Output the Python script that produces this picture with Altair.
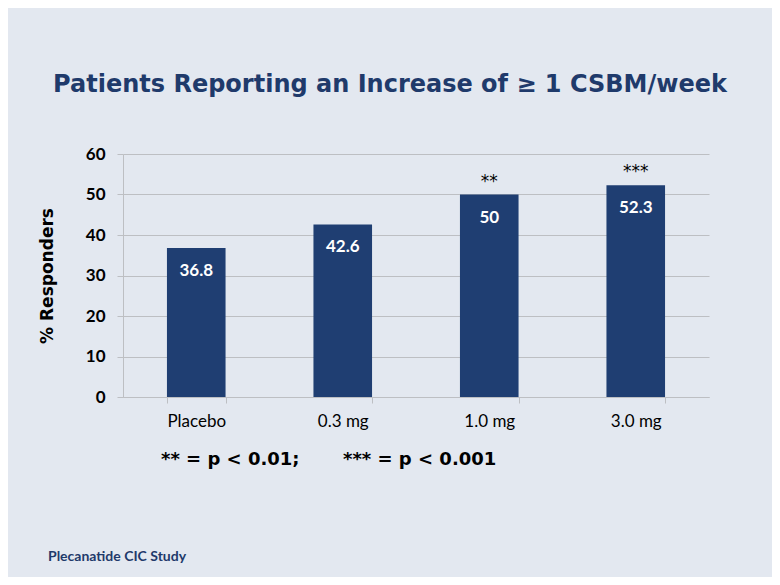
import altair as alt
import pandas as pd

categories = ["Placebo", "0.3 mg", "1.0 mg", "3.0 mg"]
values = [36.8, 42.6, 50, 52.3]
stars = ["", "", "**", "***"]
title_text = "Patients Reporting an Increase of \u2265 1 CSBM/week"
y_title = "% Responders"
footnote1 = "** = p < 0.01;"
footnote2 = "*** = p < 0.001"
source_text = "Plecanatide CIC Study"
y_ticks = [0, 10, 20, 30, 40, 50, 60]

df = pd.DataFrame({"cat": categories, "val": values, "star": stars})

BG = "#E3E8F0"
BAR = "#1F3E72"
TITLE_C = "#1F3A6B"
GRID = "#BDBFC3"

x_enc = alt.X(
    "cat:N",
    sort=categories,
    scale=alt.Scale(paddingInner=0.6, paddingOuter=0.3),
    axis=alt.Axis(
        title=None,
        labelAngle=0,
        labelFont="Lato",
        labelFontSize=17,
        labelColor="#000000",
        labelPadding=10,
        tickBand="extent",
        tickSize=6,
        tickColor=GRID,
        domainColor=GRID,
        grid=False,
    ),
)
y_enc = alt.Y(
    "val:Q",
    scale=alt.Scale(domain=[0, 60], nice=False),
    axis=alt.Axis(
        title=y_title,
        values=y_ticks,
        titleFont="DejaVu Sans",
        titleFontSize=17,
        titleFontWeight="bold",
        titleColor="#000000",
        titleX=-67,
        titleY=121.5,
        titleAngle=-90,
        titleBaseline="bottom",
        labelFont="Lato",
        labelFontSize=17,
        labelFontWeight="bold",
        labelColor="#000000",
        labelPadding=12,
        tickSize=6,
        tickColor=GRID,
        domainColor=GRID,
        gridColor=GRID,
        gridWidth=1,
    ),
)

base = alt.Chart(df)

bars = base.mark_bar(color=BAR).encode(x=x_enc, y=y_enc)

bar_labels = base.mark_text(
    font="Lato", fontSize=17, fontWeight="bold", color="white", baseline="middle", dy=23
).encode(
    x=alt.X("cat:N", sort=categories),
    y=alt.Y("val:Q"),
    text=alt.Text("val:Q", format=".3~g"),
)

star_labels = base.mark_text(
    font="DejaVu Sans", fontSize=17, color="#000000", baseline="middle", dy=-13
).encode(
    x=alt.X("cat:N", sort=categories),
    y=alt.Y("val:Q"),
    text="star:N",
)

def annot(text, x, y, **kw):
    return alt.Chart(pd.DataFrame({"t": [text]})).mark_text(**kw).encode(
        text="t:N", x=alt.value(x), y=alt.value(y)
    )

title_mark = annot(
    title_text, 267, -69,
    font="DejaVu Sans", fontSize=24, fontWeight="bold", color=TITLE_C,
    align="center", baseline="middle",
)
fn1 = annot(
    footnote1, 38, 306,
    font="DejaVu Sans", fontSize=18, fontWeight="bold", color="#000000",
    align="left", baseline="middle",
)
fn2 = annot(
    footnote2, 220, 306,
    font="DejaVu Sans", fontSize=18, fontWeight="bold", color="#000000",
    align="left", baseline="middle",
)
src = annot(
    source_text, -75, 403,
    font="Lato", fontSize=14, fontWeight="bold", color=TITLE_C,
    align="left", baseline="middle",
)

chart = (
    alt.layer(bars, bar_labels, star_labels, title_mark, fn1, fn2, src)
    .properties(
        width=586,
        height=243,
        background=BG,
        padding={"left": 115, "top": 146, "right": 63, "bottom": 180},
        autosize=alt.AutoSizeParams(type="none"),
    )
    .configure_view(stroke=None)
)

chart.save("out.html", embed_options={"renderer": "svg", "actions": False})
